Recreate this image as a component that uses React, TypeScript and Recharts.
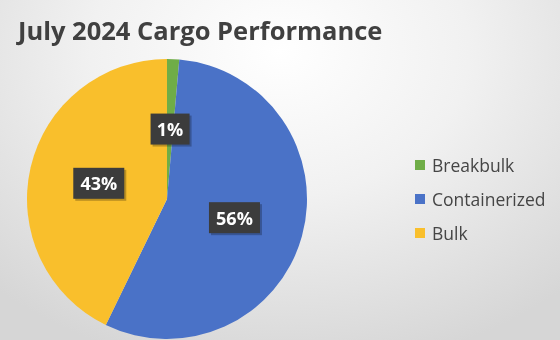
import React from 'react';
import { PieChart, Pie, Cell } from 'recharts';

const categories = ['Breakbulk', 'Containerized', 'Bulk'];
const shares = [1.4, 55.8, 42.8];
const colors = ['#6fad47', '#4a72c7', '#f9bf2c'];

const data = categories.map((name, i) => ({ name, value: shares[i] }));

const FONT = '"Open Sans", "DejaVu Sans", sans-serif';
const RAD = Math.PI / 180;

// dark boxed percentage label, placed at half the radius like Excel's "center" option
const renderLabel = (props: any) => {
  const { cx, cy, midAngle, outerRadius, percent } = props;
  const r = outerRadius * 0.5;
  const x = cx + r * Math.cos(-midAngle * RAD);
  const y = cy + r * Math.sin(-midAngle * RAD);
  const text = `${Math.round(percent * 100)}%`;
  const w = text.length * 12 + 15;
  const h = 31;
  return (
    <g>
      <rect x={x - w / 2 + 2} y={y - h / 2 + 2} width={w} height={h} fill="rgba(0,0,0,0.25)" />
      <rect x={x - w / 2} y={y - h / 2} width={w} height={h} fill="#3c3c3c" />
      <text
        x={x}
        y={y}
        fill="#ffffff"
        textAnchor="middle"
        dominantBaseline="central"
        fontFamily={FONT}
        fontWeight={700}
        fontSize={18}
      >
        {text}
      </text>
    </g>
  );
};

export default function App() {
  return (
    <div
      style={{
        position: 'fixed',
        left: 0,
        top: 0,
        width: 560,
        height: 340,
        background: 'radial-gradient(ellipse 75% 95% at 50% 15%, #ffffff 0%, #f1f1f1 45%, #d6d6d6 100%)',
        overflow: 'hidden',
      }}
    >
      <div
        style={{
          position: 'absolute',
          left: 18,
          top: 13,
          fontFamily: FONT,
          fontWeight: 700,
          fontSize: 25.5,
          color: '#404040',
          whiteSpace: 'nowrap',
        }}
      >
        July 2024 Cargo Performance
      </div>
      <div style={{ position: 'absolute', left: 0, top: 0 }}>
        <PieChart width={560} height={340} margin={{ top: 0, right: 0, bottom: 0, left: 0 }}>
          <Pie
            data={data}
            dataKey="value"
            nameKey="name"
            cx={167}
            cy={199}
            outerRadius={140}
            startAngle={90}
            endAngle={-270}
            stroke="none"
            labelLine={false}
            label={renderLabel}
            isAnimationActive={false}
          >
            {data.map((d, i) => (
              <Cell key={d.name} fill={colors[i]} />
            ))}
          </Pie>
        </PieChart>
      </div>
      <div style={{ position: 'absolute', left: 415, top: 148, fontFamily: FONT }}>
        {categories.map((name, i) => (
          <div key={name} style={{ display: 'flex', alignItems: 'center', height: 34 }}>
            <span style={{ width: 10, height: 10, background: colors[i], marginRight: 7, display: 'inline-block' }} />
            <span style={{ fontSize: 17.5, color: '#454545' }}>{name}</span>
          </div>
        ))}
      </div>
    </div>
  );
}
